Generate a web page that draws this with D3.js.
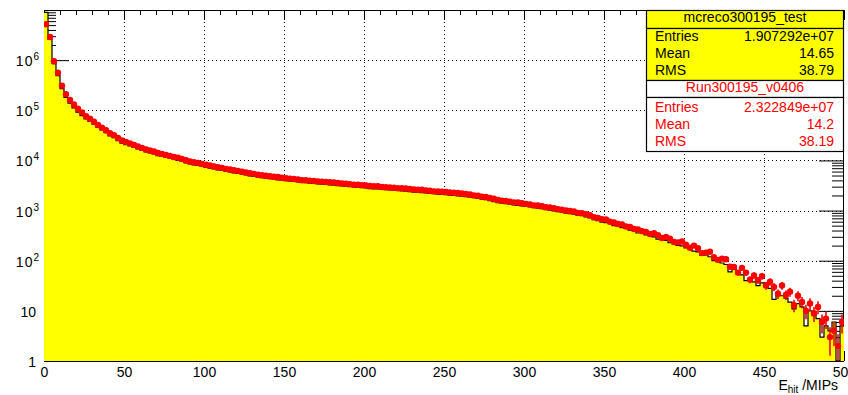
<!DOCTYPE html>
<html><head><meta charset="utf-8">
<script src="https://cdn.jsdelivr.net/npm/d3@7"></script>
<style>
body{margin:0;background:#fff;}
svg{display:block;font-family:"Liberation Sans",Arial,Helvetica,sans-serif;}
</style>
</head><body>
<svg id="c" width="848" height="395"></svg>
<script>
// ---- data (counts per 2.5-MIP bin, 0..500 MIPs) ----
const binRange = [0, 500];
const binWidth = 2.5;

const mcCounts = [
 9.0e6, 2.6e6, 8.5e5, 4.9e5, 2.7e5, 1.8e5, 1.38e5, 1.12e5, 9.2e4, 7.8e4,
 6.7e4, 6.0e4, 5.3e4, 4.55e4, 4.05e4, 3.57e4, 3.1e4, 2.85e4, 2.48e4, 2.22e4,
 20700, 19450, 18100, 16900, 15800, 14800, 14100, 13450, 12500, 12000,
 11500, 10970, 10450, 9990, 9520, 8950, 8490, 8180, 7920, 7560,
 7300, 7040, 6780, 6500, 6310, 6050, 5880, 5610, 5520, 5300,
 5120, 4940, 4800, 4630, 4510, 4410, 4320, 4210, 4110, 4030,
 3930, 3860, 3800, 3720, 3640, 3590, 3530, 3470, 3410, 3360,
 3310, 3260, 3210, 3150, 3090, 3050, 3000, 2960, 2910, 2870,
 2820, 2750, 2710, 2690, 2630, 2600, 2570, 2540, 2520, 2480,
 2450, 2390, 2340, 2320, 2290, 2240, 2200, 2180, 2130, 2110,
 2080, 2040, 2010, 1970, 1950, 1900, 1860, 1810, 1750, 1690,
 1660, 1580, 1510, 1440, 1410, 1380, 1350, 1300, 1270, 1240,
 1210, 1180, 1150, 1120, 1090, 1045, 1025, 990, 950, 925,
 890, 870, 845, 800, 790, 750, 715, 660, 630, 590,
 575, 550, 500, 490, 455, 440, 405, 400, 357, 357,
 326, 316, 300, 270, 264, 254, 228, 222, 202, 197,
 180, 170, 155, 150, 128, 130, 120, 100, 96, 90,
 84, 60, 68, 55, 52, 40, 44, 38, 32, 36,
 30, 28, 17, 22, 20, 18, 15, 11, 14, 12,
 5, 10, 8, 7, 3, 5, 4, 6, 1, 5
];

const dataCounts = [
 5.2e6, 2.9e6, 9.5e5, 5.6e5, 3.1e5, 2.1e5, 1.6e5, 1.3e5, 1.07e5, 9.1e4,
 7.6e4, 6.8e4, 5.9e4, 5.1e4, 4.5e4, 4.0e4, 3.5e4, 3.2e4, 2.8e4, 2.5e4,
 23400, 21900, 20400, 19000, 17800, 16600, 15800, 15100, 14100, 13500,
 12900, 12300, 11700, 11400, 10700, 10050, 9550, 9200, 8900, 8500,
 8200, 7900, 7600, 7300, 7100, 6800, 6600, 6350, 6200, 5950,
 5750, 5550, 5400, 5200, 5070, 4950, 4850, 4730, 4680, 4520,
 4420, 4340, 4270, 4170, 4020, 4030, 3960, 3890, 3830, 3780,
 3720, 3660, 3650, 3540, 3480, 3430, 3370, 3280, 3270, 3220,
 3160, 3090, 3050, 3060, 2950, 2920, 2880, 2850, 2780, 2790,
 2750, 2690, 2630, 2600, 2610, 2510, 2480, 2420, 2400, 2370,
 2340, 2290, 2260, 2240, 2190, 2140, 2090, 2010, 1970, 1900,
 1860, 1780, 1720, 1620, 1580, 1550, 1510, 1460, 1450, 1400,
 1360, 1330, 1270, 1260, 1220, 1170, 1160, 1110, 1070, 1040,
 1000, 980, 960, 900, 890, 850, 810, 740, 715, 670,
 665, 600, 580, 540, 530, 480, 470, 430, 420, 390,
 376, 340, 352, 322, 284, 299, 274, 236, 232, 242,
 209, 181, 200, 177, 142, 145, 151, 117, 104, 110,
 107, 76, 75, 58, 72, 58, 42, 51, 41, 49,
 32, 38, 30, 22, 32, 21, 24, 13, 20, 15,
 10, 14, 9, 12, 6, 7, 3, 4, 2, 6
];

const xTickLabels = ["0","50","100","150","200","250","300","350","400","450","500"];
const xMajorTicks = [0,50,100,150,200,250,300,350,400,450,500];
const yMajorTicks = [1,10,1e2,1e3,1e4,1e5,1e6,1e7];
const yTickBase = ["1","10","10","10","10","10","10"];
const yTickExp  = ["","","2","3","4","5","6"];
const seriesNames = ["mcreco300195_test","Run300195_v0406"];
const statLabels = ["Entries","Mean","RMS"];
const mcStatValues = ["1.907292e+07","14.65","38.79"];
const dataStatValues = ["2.322849e+07","14.2","38.19"];

// ---- layout ----
const W = 848, H = 395;
const L = 44, R = 844, T = 10, B = 361;
const svg = d3.select("#c");
svg.append("rect").attr("width",W).attr("height",H).attr("fill","#fff");

const x = d3.scaleLinear().domain(binRange).range([L, R]);
const y = d3.scaleLog().domain([1, 1e7]).range([B, T]).clamp(true);

const defs = svg.append("defs");
defs.append("clipPath").attr("id","plotclip").append("rect")
  .attr("x",L).attr("y",T).attr("width",R-L).attr("height",B-T);

// grid
const gridX = xMajorTicks.filter(v => v > 0 && v < 500);
const gridY = yMajorTicks.filter(v => v > 1 && v < 1e7);
const grid = svg.append("g").attr("stroke","#000").attr("stroke-width",1).attr("stroke-dasharray","1,3");
grid.selectAll("line.gx").data(gridX).join("line").attr("class","gx")
  .attr("x1",d=>Math.round(x(d))+0.5).attr("x2",d=>Math.round(x(d))+0.5).attr("y1",T).attr("y2",B);
grid.selectAll("line.gy").data(gridY).join("line").attr("class","gy")
  .attr("y1",d=>Math.round(y(d))+0.5).attr("y2",d=>Math.round(y(d))+0.5).attr("x1",L).attr("x2",R);

// ticks
const xMinor = d3.range(0, 501, 10).filter(v => v % 50 !== 0);
const yMinor = [];
for (let k = 0; k < 7; k++) for (let m = 2; m <= 9; m++) yMinor.push(m * Math.pow(10, k));

function styleAxis(g){ g.select(".domain").remove(); g.selectAll("text").remove(); g.selectAll("line").attr("stroke","#000"); }

svg.append("g").attr("transform",`translate(0,${T})`)
  .call(d3.axisBottom(x).tickValues(xMinor).tickSize(5).tickFormat("")).call(styleAxis);
svg.append("g").attr("transform",`translate(0,${T})`)
  .call(d3.axisBottom(x).tickValues(xMajorTicks).tickSize(10).tickFormat("")).call(styleAxis);
svg.append("g").attr("transform",`translate(0,${B})`)
  .call(d3.axisTop(x).tickValues(xMinor).tickSize(5).tickFormat("")).call(styleAxis);
svg.append("g").attr("transform",`translate(0,${B})`)
  .call(d3.axisTop(x).tickValues(xMajorTicks).tickSize(10).tickFormat("")).call(styleAxis);
svg.append("g").attr("transform",`translate(${L},0)`)
  .call(d3.axisRight(y).tickValues(yMinor).tickSize(12).tickFormat("")).call(styleAxis);
svg.append("g").attr("transform",`translate(${L},0)`)
  .call(d3.axisRight(y).tickValues(yMajorTicks).tickSize(25).tickFormat("")).call(styleAxis);
svg.append("g").attr("transform",`translate(${R},0)`)
  .call(d3.axisLeft(y).tickValues(yMinor).tickSize(12).tickFormat("")).call(styleAxis);
svg.append("g").attr("transform",`translate(${R},0)`)
  .call(d3.axisLeft(y).tickValues(yMajorTicks).tickSize(25).tickFormat("")).call(styleAxis);

// frame
svg.append("rect").attr("x",L+0.5).attr("y",T+0.5).attr("width",R-L-1).attr("height",B-T-1)
  .attr("fill","none").attr("stroke","#000").attr("stroke-width",1);

// ---- MC histogram (filled yellow, black outline) ----
const plot = svg.append("g").attr("clip-path","url(#plotclip)");
const mcPts = mcCounts.map((v,i) => ({e: binRange[0] + i*binWidth, v}));
mcPts.push({e: binRange[1], v: mcCounts[mcCounts.length-1]});
const yv = v => v >= 1 ? y(v) : B + 2;
const area = d3.area().curve(d3.curveStepAfter).x(d=>x(d.e)).y0(B+2).y1(d=>yv(d.v));
const line = d3.line().curve(d3.curveStepAfter).x(d=>x(d.e)).y(d=>yv(d.v));
plot.append("path").attr("d",area(mcPts)).attr("fill","#ffff00").attr("stroke","none");
plot.append("path").attr("d",line(mcPts)).attr("fill","none").attr("stroke","#000").attr("stroke-width",1.2);

// ---- data points with error bars (red) ----
const dPts = dataCounts.map((v,i) => ({lo: i*binWidth, hi: (i+1)*binWidth, c: (i+0.5)*binWidth, v}))
  .filter(d => d.v > 0);
const eg = plot.append("g").attr("stroke","#ff0000").attr("stroke-width",1.6);
eg.selectAll("line.v").data(dPts).join("line").attr("class","v")
  .attr("x1",d=>x(d.c)).attr("x2",d=>x(d.c))
  .attr("y1",d=>{const lo=d.v-Math.sqrt(d.v); return lo>=1? y(lo) : B+2;})
  .attr("y2",d=>y(d.v+Math.sqrt(d.v)));
eg.selectAll("line.h").data(dPts).join("line").attr("class","h")
  .attr("x1",d=>x(d.lo)).attr("x2",d=>x(d.hi))
  .attr("y1",d=>y(d.v)).attr("y2",d=>y(d.v));
plot.append("g").selectAll("circle").data(dPts).join("circle")
  .attr("cx",d=>x(d.c)).attr("cy",d=>y(d.v)).attr("r",3.2).attr("fill","#ff0000");

// bottom line over fill
svg.append("line").attr("x1",L).attr("x2",R).attr("y1",B+0.5).attr("y2",B+0.5)
  .attr("stroke","#000").attr("stroke-width",1.2);

// ---- axis labels ----
const xLab = svg.append("g").attr("transform",`translate(0,${B})`)
  .call(d3.axisBottom(x).tickValues(xMajorTicks).tickSize(0).tickPadding(0)
        .tickFormat((d,i)=>xTickLabels[i]));
xLab.select(".domain").remove();
xLab.selectAll("text").attr("font-size",14).attr("font-family","Liberation Sans, Arial, sans-serif")
  .attr("fill","#000").attr("dy",null).attr("y",16);

const yl = svg.append("g").attr("font-size",14).attr("fill","#000");
yMajorTicks.slice(0,7).forEach((v,i) => {
  const t = yl.append("text").attr("text-anchor","end").attr("y", y(v)+6);
  if (yTickExp[i]) {
    t.attr("x", 39);
    t.append("tspan").text(yTickBase[i]).attr("letter-spacing","1");
    t.append("tspan").text(yTickExp[i]).attr("font-size",10).attr("dy",-6);
  } else {
    t.attr("x", 36).text(yTickBase[i]);
  }
});

// x-axis title
const xt = svg.append("text").attr("x",838).attr("y",390).attr("text-anchor","end")
  .attr("font-size",14).attr("fill","#000");
xt.append("tspan").text("E");
xt.append("tspan").text("hit").attr("font-size",10).attr("dy",3);
xt.append("tspan").text(" /MIPs").attr("dy",-3);

// ---- stats boxes ----
const bx0 = 646, bx1 = 844;
const boxes = [
  {y0:10, y1:28, fill:"#ffff00"},
  {y0:28, y1:80, fill:"#ffff00"},
  {y0:80, y1:97, fill:"#ffffff"},
  {y0:97, y1:151, fill:"#ffffff"}
];
svg.append("g").selectAll("rect").data(boxes).join("rect")
  .attr("x",bx0+0.5).attr("y",d=>d.y0+0.5).attr("width",bx1-bx0-1).attr("height",d=>d.y1-d.y0)
  .attr("fill",d=>d.fill).attr("stroke","#000").attr("stroke-width",1.2);

const st = svg.append("g").attr("font-size",14);
st.append("text").attr("x",(bx0+bx1)/2).attr("y",22).attr("text-anchor","middle").attr("fill","#000").text(seriesNames[0]);
st.append("text").attr("x",(bx0+bx1)/2).attr("y",92).attr("text-anchor","middle").attr("fill","#ff0000").text(seriesNames[1]);
const rows1 = [41,58,75], rows2 = [112,129,146];
statLabels.forEach((lab,i) => {
  st.append("text").attr("x",655).attr("y",rows1[i]).attr("fill","#000").text(lab);
  st.append("text").attr("x",834).attr("y",rows1[i]).attr("text-anchor","end").attr("fill","#000").text(mcStatValues[i]);
  st.append("text").attr("x",655).attr("y",rows2[i]).attr("fill","#ff0000").text(lab);
  st.append("text").attr("x",834).attr("y",rows2[i]).attr("text-anchor","end").attr("fill","#ff0000").text(dataStatValues[i]);
});
</script>
</body></html>
